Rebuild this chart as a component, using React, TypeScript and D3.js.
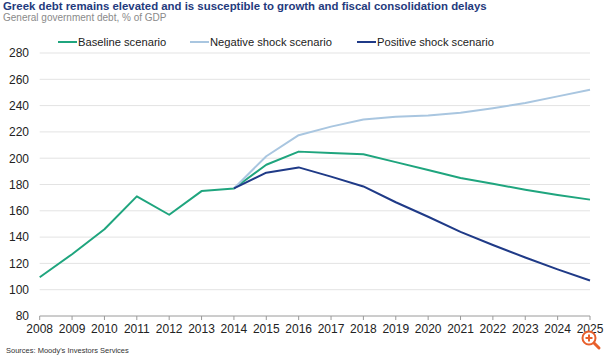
import React from "react";
import * as d3 from "d3";

const years = [2008, 2009, 2010, 2011, 2012, 2013, 2014, 2015, 2016, 2017, 2018, 2019, 2020, 2021, 2022, 2023, 2024, 2025];
const baseline = [109.5, 127, 146, 171, 157, 175, 177, 195, 205, 204, 203, 197, 191, 185, 180.5, 176, 172, 168.5];
const negative = [null, null, null, null, null, null, 177, 201.5, 217.5, 224, 229.5, 231.5, 232.5, 234.5, 238, 242, 247, 252];
const positive = [null, null, null, null, null, null, 177, 189, 193, 186, 178.5, 166.5, 155.5, 144, 134, 124.5, 115.5, 107];
const yTicks = [80, 100, 120, 140, 160, 180, 200, 220, 240, 260, 280];

const seriesNames = ["Baseline scenario", "Negative shock scenario", "Positive shock scenario"];
const seriesColors = ["#1fa57e", "#a9c6e0", "#1f3a87"];

export default function App() {
  const W = 610, H = 357;
  const x = d3.scaleLinear().domain([2008, 2025]).range([39.7, 590]);
  const y = d3.scaleLinear().domain([80, 280]).range([316, 53]);
  const line = d3
    .line<[number, number | null]>()
    .defined((d) => d[1] != null)
    .x((d) => x(d[0]))
    .y((d) => y(d[1] as number));
  const data = [baseline, negative, positive];
  const font = "'Liberation Sans', Arial, sans-serif";
  const legendX = [58, 190, 357];

  return (
    <svg width={W} height={H} style={{ position: "absolute", left: 0, top: 0, fontFamily: font }}>
      <rect width={W} height={H} fill="#fff" />
      <text x={3} y={10} fontSize={11.4} fontWeight="bold" fill="#1f3a7d">
        Greek debt remains elevated and is susceptible to growth and fiscal consolidation delays
      </text>
      <text x={3} y={21} fontSize={10} fill="#8a8a8a">
        General government debt, % of GDP
      </text>
      {seriesNames.map((n, i) => (
        <g key={n}>
          <line x1={legendX[i]} x2={legendX[i] + 19} y1={42} y2={42} stroke={seriesColors[i]} strokeWidth={2} />
          <text x={legendX[i] + 20} y={46} fontSize={11.2} fill="#222">
            {n}
          </text>
        </g>
      ))}
      {yTicks.map((t) => (
        <g key={t}>
          {t > 80 && <line x1={39.7} x2={590} y1={y(t)} y2={y(t)} stroke="#e3e3e3" strokeWidth={1} />}
          <text x={29} y={y(t) + 4.3} fontSize={12} textAnchor="end" fill="#222">
            {t}
          </text>
        </g>
      ))}
      <line x1={39.7} x2={590} y1={316} y2={316} stroke="#9a9a9a" strokeWidth={1} />
      {years.map((yr) => (
        <g key={yr}>
          <line x1={x(yr)} x2={x(yr)} y1={316} y2={320} stroke="#9a9a9a" strokeWidth={1} />
          <text x={x(yr)} y={333} fontSize={12} textAnchor="middle" fill="#222">
            {yr}
          </text>
        </g>
      ))}
      {data.map((s, i) => (
        <path
          key={i}
          d={line(years.map((yr, j) => [yr, s[j]] as [number, number | null])) || ""}
          fill="none"
          stroke={seriesColors[i]}
          strokeWidth={2}
          strokeLinejoin="round"
        />
      ))}
      <text x={6} y={352.5} fontSize={7.5} fill="#333">
        Sources: Moody's Investors Services
      </text>
      <g>
        <line x1={593} y1={342} x2={599} y2={348} stroke="#e8602c" strokeWidth={3} strokeLinecap="round" />
        <circle cx={589} cy={338} r={6.5} fill="#fff" stroke="#e8602c" strokeWidth={2} />
        <line x1={585.5} x2={592.5} y1={338} y2={338} stroke="#e8602c" strokeWidth={2} />
        <line x1={589} x2={589} y1={334.5} y2={341.5} stroke="#e8602c" strokeWidth={2} />
      </g>
    </svg>
  );
}
